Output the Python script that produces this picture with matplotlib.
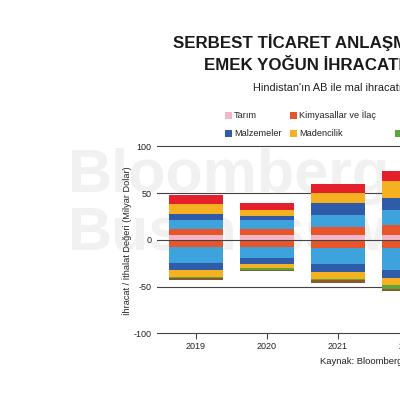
import matplotlib
matplotlib.use("Agg")
import matplotlib.pyplot as plt
from matplotlib.patches import Rectangle
import numpy as np

plt.rcParams['font.family'] = ['Liberation Sans', 'DejaVu Sans']

years = ["2019", "2020", "2021", "2022"]
categories = ["Tarım", "Kimyasallar ve İlaç", "Makine ve Elektronik", "Malzemeler",
              "Madencilik", "Taşıtlar", "Diğer", "Tekstil ve Giyim"]
colors = ["#f0b6ca", "#e8552b", "#3ea3dd", "#2f5ba8",
          "#f5b120", "#5ea53c", "#8a5a2a", "#e3202b"]

# exports (positive), billion USD
exp_tarim = [5.5, 5.5, 5.0, 5.0]
exp_kimya = [6.0, 6.0, 8.5, 11.0]
exp_makine = [9.3, 9.3, 12.8, 16.0]
exp_malz = [7.0, 5.0, 13.2, 12.6]
exp_maden = [10.8, 5.7, 10.7, 17.8]
exp_tasit = [0.0, 0.0, 0.0, 0.0]
exp_diger = [0.0, 0.0, 0.0, 0.0]
exp_tekstil = [9.6, 7.8, 9.7, 11.6]

# imports (shown negative), billion USD
imp_tarim = [0.0, 0.0, 0.0, 0.0]
imp_kimya = [7.3, 7.8, 9.0, 9.0]
imp_makine = [17.7, 12.0, 17.0, 23.0]
imp_malz = [7.8, 6.0, 8.5, 9.0]
imp_maden = [7.0, 4.0, 7.5, 7.0]
imp_tasit = [1.2, 2.0, 1.5, 4.5]
imp_diger = [1.7, 2.0, 2.5, 2.0]
imp_tekstil = [0.0, 0.0, 0.0, 0.0]

exports = [exp_tarim, exp_kimya, exp_makine, exp_malz, exp_maden, exp_tasit, exp_diger, exp_tekstil]
imports = [imp_tarim, imp_kimya, imp_makine, imp_malz, imp_maden, imp_tasit, imp_diger, imp_tekstil]

yticks = [-100, -50, 0, 50, 100]

W, H = 400, 400
fig = plt.figure(figsize=(4, 4), dpi=100)
fig.patch.set_facecolor("white")

ax = fig.add_axes([157 / W, 1 - 333.3 / H, 291 / W, 187 / H])
ax.patch.set_visible(False)

x = np.arange(len(years))
pos = np.zeros(len(years))
neg = np.zeros(len(years))
for name, col, e, i in zip(categories, colors, exports, imports):
    e = np.array(e); i = np.array(i)
    ax.bar(x, e, 0.76, bottom=pos, color=col, lw=0, zorder=2)
    pos += e
    ax.bar(x, -i, 0.76, bottom=neg, color=col, lw=0, zorder=2)
    neg -= i

ax.set_xlim(-0.55, 3.55)
ax.set_ylim(-100, 100)
for yv in yticks:
    ax.axhline(yv, color="#444444", lw=0.8, zorder=3 if yv == 0 else 1, clip_on=False)

ax.set_yticks(yticks)
ax.set_yticklabels([str(v) for v in yticks])
ax.set_xticks(x)
ax.set_xticklabels(years)
for s in ax.spines.values():
    s.set_visible(False)
ax.tick_params(axis="y", length=0, pad=4, labelsize=6.5, labelcolor="#222222")
ax.tick_params(axis="x", length=4, width=0.8, color="#444444", pad=2.5,
               labelsize=6.5, labelcolor="#222222")

# watermark
ax.text(68 / W, 1 - 192 / H, "Bloomberg", transform=fig.transFigure, fontsize=44,
        weight="bold", color="#f1f1f1", zorder=0.5, clip_on=False, ha="left", va="baseline")
ax.text(68 / W, 1 - 249 / H, "Businessweek", transform=fig.transFigure, fontsize=44,
        weight="bold", color="#f1f1f1", zorder=0.5, clip_on=False, ha="left", va="baseline")

# titles
fig.text(173 / W, 1 - 48.3 / H, "SERBEST TİCARET ANLAŞMASI HİNDİSTAN'IN",
         fontsize=12.2, weight="bold", color="#1a1a1a", ha="left", va="baseline")
fig.text(204 / W, 1 - 70 / H, "EMEK YOĞUN İHRACATINI ARTIRACAK",
         fontsize=12.2, weight="bold", color="#1a1a1a", ha="left", va="baseline")
fig.text(253 / W, 1 - 90.7 / H, "Hindistan'ın AB ile mal ihracatı ve ithalatı",
         fontsize=7.9, color="#222222", ha="left", va="baseline")

# y label
fig.text(127 / W, 1 - 241 / H, "İhracat / İthalat Değeri (Milyar Dolar)",
         fontsize=6.6, rotation=90, color="#222222", ha="center", va="center")

# source
fig.text(320 / W, 1 - 363.5 / H, "Kaynak: Bloomberg",
         fontsize=6.8, color="#222222", ha="left", va="baseline")

# legend (manual grid)
leg_cols_px = [225, 290, 395, 510]
leg_rows_px = [115, 133]
leg_grid = {"Tarım": (0, 0), "Malzemeler": (0, 1), "Kimyasallar ve İlaç": (1, 0),
            "Madencilik": (1, 1), "Makine ve Elektronik": (3, 0), "Taşıtlar": (2, 1),
            "Tekstil ve Giyim": (3, 1), "Diğer": (4, 0)}
leg_cols_px.append(620)
for name, col in zip(categories, colors):
    c, r = leg_grid[name]
    lx = leg_cols_px[c]
    ly = leg_rows_px[r]
    fig.add_artist(Rectangle((lx / W, 1 - (ly + 3.5) / H), 7 / W, 7 / H,
                             transform=fig.transFigure, facecolor=col, lw=0))
    fig.text((lx + 9) / W, 1 - ly / H, name, fontsize=6.6, color="#222222",
             ha="left", va="center")

fig.savefig("out.png", dpi=100, facecolor="white")
